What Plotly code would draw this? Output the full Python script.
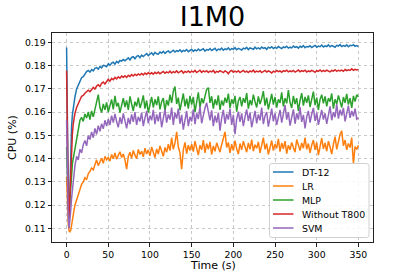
import plotly.graph_objects as go

# ---- data ----
time_s = list(range(10)) + list(range(10, 351, 2))

dt12 = [0.1878, 0.1500, 0.1260, 0.1120, 0.1300, 0.1450, 0.1540, 0.1590, 0.1620, 0.1645,
        0.1665, 0.1700, 0.1718, 0.1730, 0.1748, 0.1752, 0.1766, 0.1774, 0.1779, 0.1772,
        0.1783, 0.1777, 0.1788, 0.1791, 0.1785, 0.1796, 0.1790, 0.1801, 0.1799, 0.1795,
        0.1808, 0.1801, 0.1811, 0.1815, 0.1806, 0.1818, 0.1812, 0.1822, 0.1819, 0.1826,
        0.1821, 0.1829, 0.1833, 0.1824, 0.1835, 0.1838, 0.1829, 0.1840, 0.1843, 0.1834,
        0.1845, 0.1839, 0.1847, 0.1852, 0.1843, 0.1850, 0.1855, 0.1846, 0.1857, 0.1851,
        0.1849, 0.1858, 0.1854, 0.1861, 0.1852, 0.1859, 0.1863, 0.1855, 0.1860, 0.1866,
        0.1858, 0.1864, 0.1861, 0.1868, 0.1859, 0.1865, 0.1862, 0.1869, 0.1860, 0.1866,
        0.1870, 0.1861, 0.1867, 0.1863, 0.1871, 0.1864, 0.1868, 0.1872, 0.1862, 0.1869,
        0.1866, 0.1873, 0.1865, 0.1870, 0.1874, 0.1864, 0.1871, 0.1868, 0.1875, 0.1866,
        0.1872, 0.1869, 0.1876, 0.1867, 0.1873, 0.1870, 0.1877, 0.1868, 0.1874, 0.1871,
        0.1867, 0.1875, 0.1872, 0.1878, 0.1869, 0.1876, 0.1873, 0.1870, 0.1879, 0.1872,
        0.1876, 0.1871, 0.1880, 0.1874, 0.1877, 0.1870, 0.1879, 0.1875, 0.1881, 0.1873,
        0.1878, 0.1874, 0.1882, 0.1876, 0.1873, 0.1880, 0.1877, 0.1883, 0.1875, 0.1879,
        0.1876, 0.1884, 0.1878, 0.1881, 0.1875, 0.1883, 0.1879, 0.1886, 0.1877, 0.1882,
        0.1880, 0.1885, 0.1878, 0.1883, 0.1887, 0.1879, 0.1884, 0.1881, 0.1888, 0.1880,
        0.1885, 0.1882, 0.1889, 0.1881, 0.1886, 0.1883, 0.1879, 0.1887, 0.1884, 0.1890,
        0.1882, 0.1886, 0.1883, 0.1889, 0.1881, 0.1887, 0.1885, 0.1890, 0.1883, 0.1886,
        0.1881]

lr = [0.1322, 0.1200, 0.1120, 0.1090, 0.1086, 0.1092, 0.1110, 0.1135, 0.1160, 0.1180,
      0.1200, 0.1225, 0.1250, 0.1270, 0.1290, 0.1300, 0.1318, 0.1310, 0.1335, 0.1345,
      0.1360, 0.1352, 0.1378, 0.1395, 0.1370, 0.1388, 0.1402, 0.1380, 0.1410, 0.1395,
      0.1405, 0.1390, 0.1418, 0.1400, 0.1425, 0.1398, 0.1412, 0.1430, 0.1405, 0.1420,
      0.1395, 0.1355, 0.1410, 0.1428, 0.1402, 0.1435, 0.1415, 0.1400, 0.1440, 0.1418,
      0.1432, 0.1408, 0.1445, 0.1420, 0.1438, 0.1412, 0.1450, 0.1425, 0.1405, 0.1442,
      0.1420, 0.1455, 0.1432, 0.1410, 0.1448, 0.1428, 0.1462, 0.1435, 0.1490, 0.1440,
      0.1468, 0.1515, 0.1450, 0.1425, 0.1355, 0.1438, 0.1470, 0.1422, 0.1458, 0.1435,
      0.1462, 0.1430, 0.1475, 0.1445, 0.1415, 0.1458, 0.1438, 0.1480, 0.1425, 0.1465,
      0.1440, 0.1472, 0.1418, 0.1455, 0.1432, 0.1468, 0.1445, 0.1428, 0.1460, 0.1495,
      0.1515, 0.1448, 0.1470, 0.1425, 0.1462, 0.1435, 0.1478, 0.1442, 0.1420, 0.1465,
      0.1438, 0.1475, 0.1450, 0.1428, 0.1468, 0.1440, 0.1482, 0.1432, 0.1460, 0.1445,
      0.1472, 0.1425, 0.1458, 0.1490, 0.1440, 0.1465, 0.1418, 0.1455, 0.1478, 0.1435,
      0.1462, 0.1445, 0.1485, 0.1430, 0.1468, 0.1442, 0.1475, 0.1422, 0.1458, 0.1438,
      0.1470, 0.1448, 0.1428, 0.1482, 0.1452, 0.1435, 0.1468, 0.1445, 0.1490, 0.1440,
      0.1465, 0.1425, 0.1458, 0.1480, 0.1438, 0.1470, 0.1415, 0.1455, 0.1488, 0.1442,
      0.1468, 0.1432, 0.1475, 0.1450, 0.1420, 0.1462, 0.1495, 0.1440, 0.1472, 0.1505,
      0.1520, 0.1455, 0.1480, 0.1438, 0.1465, 0.1448, 0.1490, 0.1380, 0.1452, 0.1440,
      0.1458]

mlp = [0.1450, 0.1300, 0.1200, 0.1170, 0.1230, 0.1290, 0.1340, 0.1380, 0.1400, 0.1420,
       0.1450, 0.1490, 0.1520, 0.1565, 0.1578, 0.1560, 0.1592, 0.1575, 0.1601, 0.1568,
       0.1605, 0.1580, 0.1612, 0.1648, 0.1675, 0.1620, 0.1598, 0.1635, 0.1610, 0.1642,
       0.1600, 0.1628, 0.1655, 0.1612, 0.1670, 0.1625, 0.1640, 0.1598, 0.1632, 0.1660,
       0.1622, 0.1650, 0.1610, 0.1668, 0.1635, 0.1605, 0.1645, 0.1625, 0.1662, 0.1618,
       0.1640, 0.1672, 0.1615, 0.1650, 0.1598, 0.1638, 0.1665, 0.1620, 0.1655, 0.1630,
       0.1668, 0.1612, 0.1645, 0.1660, 0.1605, 0.1652, 0.1628, 0.1675, 0.1640, 0.1690,
       0.1710, 0.1635, 0.1662, 0.1608, 0.1648, 0.1680, 0.1625, 0.1658, 0.1615, 0.1670,
       0.1632, 0.1665, 0.1600, 0.1648, 0.1685, 0.1620, 0.1660, 0.1638, 0.1675, 0.1698,
       0.1705, 0.1640, 0.1668, 0.1615, 0.1655, 0.1630, 0.1672, 0.1610, 0.1650, 0.1628,
       0.1662, 0.1640, 0.1680, 0.1618, 0.1655, 0.1635, 0.1670, 0.1602, 0.1648, 0.1665,
       0.1625, 0.1660, 0.1640, 0.1682, 0.1615, 0.1652, 0.1630, 0.1675, 0.1645, 0.1620,
       0.1668, 0.1635, 0.1658, 0.1690, 0.1628, 0.1662, 0.1612, 0.1650, 0.1678, 0.1632,
       0.1665, 0.1620, 0.1655, 0.1640, 0.1685, 0.1625, 0.1660, 0.1638, 0.1695, 0.1642,
       0.1618, 0.1670, 0.1635, 0.1660, 0.1605, 0.1650, 0.1682, 0.1628, 0.1665, 0.1640,
       0.1672, 0.1622, 0.1658, 0.1688, 0.1630, 0.1662, 0.1610, 0.1655, 0.1675, 0.1638,
       0.1668, 0.1625, 0.1660, 0.1645, 0.1680, 0.1615, 0.1655, 0.1635, 0.1672, 0.1648,
       0.1620, 0.1665, 0.1640, 0.1678, 0.1632, 0.1660, 0.1618, 0.1670, 0.1645, 0.1675,
       0.1665]

without_t800 = [0.1778, 0.1450, 0.1220, 0.1150, 0.1260, 0.1380, 0.1460, 0.1510, 0.1550, 0.1580,
                0.1595, 0.1620, 0.1640, 0.1652, 0.1668, 0.1672, 0.1681, 0.1689, 0.1694, 0.1688,
                0.1700, 0.1706, 0.1699, 0.1712, 0.1718, 0.1710, 0.1724, 0.1729, 0.1721, 0.1734,
                0.1741, 0.1733, 0.1745, 0.1739, 0.1749, 0.1743, 0.1752, 0.1746, 0.1755, 0.1750,
                0.1756, 0.1749, 0.1758, 0.1753, 0.1761, 0.1755, 0.1763, 0.1757, 0.1764, 0.1759,
                0.1766, 0.1760, 0.1768, 0.1762, 0.1770, 0.1764, 0.1769, 0.1763, 0.1771, 0.1766,
                0.1772, 0.1765, 0.1770, 0.1775, 0.1767, 0.1773, 0.1769, 0.1776, 0.1768, 0.1774,
                0.1770, 0.1777, 0.1769, 0.1774, 0.1778, 0.1768, 0.1775, 0.1771, 0.1777, 0.1770,
                0.1776, 0.1772, 0.1779, 0.1770, 0.1775, 0.1780, 0.1771, 0.1777, 0.1773, 0.1778,
                0.1770, 0.1776, 0.1773, 0.1779, 0.1769, 0.1775, 0.1772, 0.1778, 0.1774, 0.1770,
                0.1777, 0.1773, 0.1765, 0.1775, 0.1779, 0.1771, 0.1776, 0.1772, 0.1778, 0.1770,
                0.1775, 0.1779, 0.1772, 0.1776, 0.1770, 0.1777, 0.1773, 0.1780, 0.1771, 0.1776,
                0.1773, 0.1778, 0.1770, 0.1775, 0.1779, 0.1772, 0.1777, 0.1774, 0.1768, 0.1776,
                0.1772, 0.1779, 0.1774, 0.1777, 0.1771, 0.1778, 0.1775, 0.1780, 0.1773, 0.1777,
                0.1774, 0.1779, 0.1772, 0.1776, 0.1781, 0.1773, 0.1778, 0.1775, 0.1780, 0.1772,
                0.1777, 0.1774, 0.1779, 0.1776, 0.1771, 0.1778, 0.1775, 0.1781, 0.1774, 0.1779,
                0.1775, 0.1780, 0.1777, 0.1773, 0.1779, 0.1776, 0.1782, 0.1775, 0.1780, 0.1777,
                0.1781, 0.1776, 0.1783, 0.1778, 0.1782, 0.1779, 0.1786, 0.1780, 0.1784, 0.1781,
                0.1783]

svm = [0.1565, 0.1320, 0.1150, 0.1100, 0.1130, 0.1180, 0.1230, 0.1270, 0.1300, 0.1340,
       0.1370, 0.1410, 0.1395, 0.1440, 0.1425, 0.1460, 0.1478, 0.1455, 0.1500, 0.1482,
       0.1515, 0.1490, 0.1530, 0.1505, 0.1542, 0.1518, 0.1550, 0.1528, 0.1565, 0.1540,
       0.1570, 0.1545, 0.1585, 0.1555, 0.1592, 0.1560, 0.1535, 0.1578, 0.1550, 0.1595,
       0.1562, 0.1530, 0.1575, 0.1548, 0.1590, 0.1558, 0.1600, 0.1545, 0.1580, 0.1560,
       0.1598, 0.1540, 0.1575, 0.1605, 0.1552, 0.1585, 0.1565, 0.1610, 0.1548, 0.1590,
       0.1560, 0.1600, 0.1535, 0.1582, 0.1612, 0.1555, 0.1590, 0.1568, 0.1620, 0.1545,
       0.1598, 0.1572, 0.1615, 0.1550, 0.1588, 0.1525, 0.1575, 0.1605, 0.1540, 0.1580,
       0.1560, 0.1612, 0.1548, 0.1595, 0.1570, 0.1625, 0.1552, 0.1590, 0.1618, 0.1640,
       0.1600, 0.1565, 0.1608, 0.1540, 0.1585, 0.1555, 0.1598, 0.1520, 0.1575, 0.1610,
       0.1550, 0.1592, 0.1568, 0.1615, 0.1545, 0.1588, 0.1505, 0.1570, 0.1602, 0.1558,
       0.1595, 0.1540, 0.1580, 0.1612, 0.1562, 0.1598, 0.1535, 0.1578, 0.1605, 0.1552,
       0.1590, 0.1565, 0.1620, 0.1548, 0.1585, 0.1600, 0.1538, 0.1575, 0.1615, 0.1560,
       0.1595, 0.1545, 0.1582, 0.1610, 0.1555, 0.1590, 0.1630, 0.1568, 0.1600, 0.1542,
       0.1585, 0.1612, 0.1550, 0.1595, 0.1568, 0.1622, 0.1558, 0.1588, 0.1530, 0.1580,
       0.1605, 0.1555, 0.1592, 0.1618, 0.1562, 0.1598, 0.1545, 0.1585, 0.1610, 0.1568,
       0.1595, 0.1550, 0.1588, 0.1625, 0.1565, 0.1600, 0.1578, 0.1635, 0.1572, 0.1610,
       0.1585, 0.1618, 0.1560, 0.1600, 0.1628, 0.1575, 0.1605, 0.1582, 0.1615, 0.1570,
       0.1575]

series_names = ["DT-12", "LR", "MLP", "Without T800", "SVM"]
series_values = [dt12, lr, mlp, without_t800, svm]
colors = ["#1f77b4", "#ff7f0e", "#2ca02c", "#d62728", "#9467bd"]

x_ticks = [0, 50, 100, 150, 200, 250, 300, 350]
y_ticks = [0.11, 0.12, 0.13, 0.14, 0.15, 0.16, 0.17, 0.18, 0.19]

# ---- geometry (pixels) ----
W, H = 415, 277
L, R, T, B = 52, 373, 33, 242
FONT = "DejaVu Sans"

fig = go.Figure()
for name, vals, col in zip(series_names, series_values, colors):
    fig.add_trace(go.Scatter(x=time_s, y=vals, mode="lines", name=name,
                             line=dict(color=col, width=1.5), showlegend=False))

def px(xp):
    return (xp - L) / (R - L)

def py(yp):
    return (B - yp) / (B - T)

# legend drawn as shapes + text
bx0, bx1, by0, by1 = 269.5, 369, 163.5, 237.5
r = 2.5
path = (f"M {px(bx0 + r)},{py(by0)} L {px(bx1 - r)},{py(by0)} "
        f"Q {px(bx1)},{py(by0)} {px(bx1)},{py(by0 + r)} "
        f"L {px(bx1)},{py(by1 - r)} Q {px(bx1)},{py(by1)} {px(bx1 - r)},{py(by1)} "
        f"L {px(bx0 + r)},{py(by1)} Q {px(bx0)},{py(by1)} {px(bx0)},{py(by1 - r)} "
        f"L {px(bx0)},{py(by0 + r)} Q {px(bx0)},{py(by0)} {px(bx0 + r)},{py(by0)} Z")
shapes = [dict(type="path", path=path, xref="paper", yref="paper", layer="above",
               fillcolor="rgba(255,255,255,0.85)", line=dict(color="#d0d0d0", width=1))]
annotations = []
row_y = [172, 186, 200, 214, 228]
for name, col, yy in zip(series_names, colors, row_y):
    shapes.append(dict(type="line", xref="paper", yref="paper", layer="above",
                       x0=px(273), x1=px(293.5), y0=py(yy), y1=py(yy),
                       line=dict(color=col, width=1.5)))
    annotations.append(dict(text=name, xref="paper", yref="paper", x=px(299.5), y=py(yy),
                            xanchor="left", yanchor="middle", showarrow=False,
                            font=dict(family=FONT, size=9.4, color="black")))

# axis titles
annotations.append(dict(text="Time (s)", xref="paper", yref="paper", x=px((L + R) / 2),
                        y=py(265.5), xanchor="center", yanchor="middle", showarrow=False,
                        font=dict(family=FONT, size=11, color="black")))
annotations.append(dict(text="CPU (%)", xref="paper", yref="paper", x=px(12.5),
                        y=py((T + B) / 2), xanchor="center", yanchor="middle", showarrow=False,
                        textangle=-90, font=dict(family=FONT, size=11, color="black")))

fig.update_layout(
    width=W, height=H,
    margin=dict(l=L, r=W - R, t=T, b=H - B, pad=0),
    paper_bgcolor="white", plot_bgcolor="white",
    font=dict(family=FONT, color="black"),
    title=dict(text="I1M0", font=dict(family=FONT, size=27, color="black"),
               x=(L + R) / 2 / W, xanchor="center", xref="container",
               y=1 - 17 / H, yanchor="middle", yref="container"),
    shapes=shapes, annotations=annotations,
)
fig.update_xaxes(range=[-17.5, 367.5], tickvals=x_ticks, ticktext=[str(v) for v in x_ticks],
                 showgrid=True, gridcolor="#c8c8c8", griddash="dot", gridwidth=1,
                 showline=True, linecolor="#222", linewidth=1, mirror=True,
                 ticks="outside", ticklen=3.5, tickcolor="#222", tickwidth=0.8,
                 tickfont=dict(family=FONT, size=9.3, color="black"), zeroline=False)
fig.update_yaxes(range=[0.1042, 0.1940], tickvals=y_ticks, ticktext=[f"{v:.2f}" for v in y_ticks],
                 showgrid=True, gridcolor="#c8c8c8", griddash="dot", gridwidth=1,
                 showline=True, linecolor="#222", linewidth=1, mirror=True,
                 ticks="outside", ticklen=3.5, tickcolor="#222", tickwidth=0.8,
                 tickfont=dict(family=FONT, size=9.3, color="black"), zeroline=False)

fig.write_html("out.html", config={"displayModeBar": False},
               post_script="document.body.style.margin='0';")
